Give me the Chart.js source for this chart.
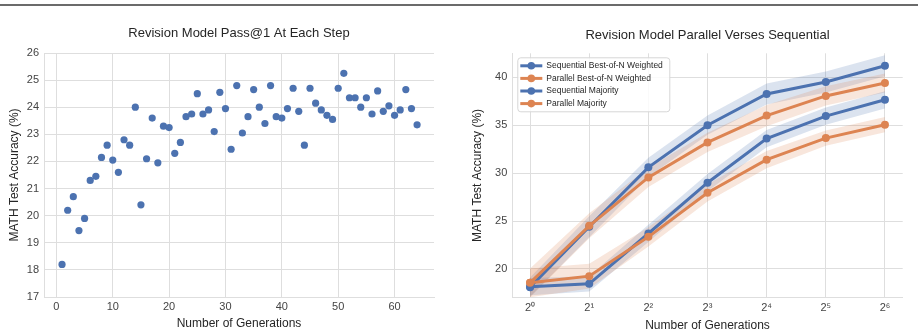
<!DOCTYPE html>
<html>
<head>
<meta charset="utf-8">
<script src="https://cdn.jsdelivr.net/npm/chart.js@4"></script>
<style>
  html, body { margin: 0; padding: 0; background: #fff; }
  body { width: 918px; height: 333px; position: relative; overflow: hidden; }
  .rule { position: absolute; left: 0; top: 4px; width: 918px; height: 2px; background: #6b6b6b; }
  .panel { position: absolute; top: 0; width: 459px; height: 333px; }
</style>
</head>
<body>
<div class="rule"></div>
<div class="panel" style="left:0"><canvas id="passChart" width="459" height="333"></canvas></div>
<div class="panel" style="left:459px"><canvas id="parallelChart" width="459" height="333"></canvas></div>
<script>
// left panel: pass@1 of the revision model at each step
const generations = [
  1, 2, 3, 4, 5, 6, 7, 8, 9, 10, 11, 12, 13, 14, 15, 16,
  17, 18, 19, 20, 21, 22, 23, 24, 25, 26, 27, 28, 29, 30, 31, 32,
  33, 34, 35, 36, 37, 38, 39, 40, 41, 42, 43, 44, 45, 46, 47, 48,
  49, 50, 51, 52, 53, 54, 55, 56, 57, 58, 59, 60, 61, 62, 63, 64,
];
const passAtStep = [
  18.2, 20.2, 20.7, 19.45, 19.9, 21.3, 21.45, 22.15, 22.6, 22.05, 21.6, 22.8, 22.6, 24.0, 20.4, 22.1,
  23.6, 21.95, 23.3, 23.25, 22.3, 22.7, 23.65, 23.75, 24.5, 23.75, 23.9, 23.1, 24.55, 23.95, 22.45, 24.8,
  23.05, 23.65, 24.65, 24.0, 23.4, 24.8, 23.65, 23.6, 23.95, 24.7, 23.85, 22.6, 24.7, 24.15, 23.9, 23.7,
  23.55, 24.7, 25.25, 24.35, 24.35, 24.0, 24.35, 23.75, 24.6, 23.85, 24.05, 23.7, 23.9, 24.65, 23.95, 23.35,
];
const passXTicks = [0, 10, 20, 30, 40, 50, 60];
const passYTicks = [17, 18, 19, 20, 21, 22, 23, 24, 25, 26];

// right panel: parallel vs sequential
const samples = [1, 2, 4, 8, 16, 32, 64];
const sampleLabels = ["2⁰", "2¹", "2²", "2³", "2⁴", "2⁵", "2⁶"];
const accYTicks = [20, 25, 30, 35, 40];
const seqBestOfN = [18.1, 24.4, 30.6, 35.0, 38.25, 39.5, 41.2];
const parBestOfN = [18.55, 24.5, 29.55, 33.2, 36.0, 38.05, 39.4];
const seqMajority = [18.15, 18.45, 23.7, 29.0, 33.6, 35.95, 37.65];
const parMajority = [18.55, 19.25, 23.35, 27.95, 31.4, 33.65, 35.05];
const seqBestOfNErr = [1.0, 1.1, 1.0, 1.0, 1.1, 1.1, 1.1];
const parBestOfNErr = [1.5, 1.3, 1.0, 1.0, 1.1, 1.0, 1.0];
const seqMajorityErr = [0.9, 0.8, 0.9, 0.9, 0.9, 0.9, 0.9];
const parMajorityErr = [1.5, 1.3, 1.0, 0.9, 0.9, 0.8, 0.8];

const BLUE = "#4c72b0";
const ORANGE = "#dd8452";
const BLUE_BAND = "rgba(76, 114, 176, 0.2)";
const ORANGE_BAND = "rgba(221, 132, 82, 0.2)";
const GRID = "#dedede";
const TEXT = "#262626";

Chart.defaults.font.family = '"Liberation Sans", Arial, sans-serif';
Chart.defaults.color = TEXT;
Chart.defaults.animation = false;

function gridOpts() {
  return { color: GRID, drawTicks: false };
}

new Chart(document.getElementById("passChart"), {
  type: "scatter",
  data: {
    datasets: [{
      data: generations.map((g, i) => ({ x: g, y: passAtStep[i] })),
      backgroundColor: BLUE,
      borderWidth: 0,
      pointRadius: 3.6,
    }],
  },
  options: {
    responsive: false,
    layout: { padding: { left: 0, right: 25, top: 0, bottom: 0 } },
    plugins: {
      legend: { display: false },
      tooltip: { enabled: false },
      title: {
        display: true,
        fullSize: false,
        text: "Revision Model Pass@1 At Each Step",
        font: { size: 13, weight: "normal" },
        color: TEXT,
        padding: { top: 26, bottom: 11.4 },
      },
    },
    scales: {
      x: {
        type: "linear",
        min: -2.2,
        max: 67,
        afterBuildTicks: (s) => { s.ticks = passXTicks.map((v) => ({ value: v })); },
        afterFit: (s) => { s.height = 36; },
        grid: gridOpts(),
        border: { color: GRID },
        ticks: { font: { size: 11 }, color: "#444", padding: 3 },
        title: { display: true, text: "Number of Generations", font: { size: 12 }, color: TEXT, padding: { top: 0, bottom: 2 } },
      },
      y: {
        min: 17,
        max: 26,
        afterBuildTicks: (s) => { s.ticks = passYTicks.map((v) => ({ value: v })); },
        afterFit: (s) => { s.width = 44; },
        grid: gridOpts(),
        border: { color: GRID },
        ticks: { font: { size: 11 }, color: "#444", padding: 5 },
        title: { display: true, text: "MATH Test Accuracy (%)", font: { size: 12 }, color: TEXT, padding: { top: 7, bottom: 0 } },
      },
    },
  },
});

const pts = (arr) => arr.map((v, i) => ({ x: samples[i], y: v }));
const shift = (arr, err, sign) => arr.map((v, i) => ({ x: samples[i], y: v + sign * err[i] }));

function lineSet(label, values, color) {
  return {
    label,
    data: pts(values),
    borderColor: color,
    backgroundColor: color,
    borderWidth: 3,
    pointRadius: 4,
    pointBorderWidth: 0,
    tension: 0,
    fill: false,
  };
}
function bandSets(values, err, color) {
  return [
    { label: "", data: shift(values, err, 1), borderWidth: 0, pointRadius: 0, backgroundColor: color, fill: "+1" },
    { label: "", data: shift(values, err, -1), borderWidth: 0, pointRadius: 0, fill: false },
  ];
}

const legendItems = [
  { text: "Sequential Best-of-N Weighted", color: BLUE },
  { text: "Parallel Best-of-N Weighted", color: ORANGE },
  { text: "Sequential Majority", color: BLUE },
  { text: "Parallel Majority", color: ORANGE },
];

const boxLegend = {
  id: "boxLegend",
  afterDatasetsDraw(chart) {
    const { ctx, chartArea } = chart;
    const x0 = chartArea.left + 5;
    const y0 = chartArea.top + 4;
    ctx.save();
    ctx.fillStyle = "rgba(255,255,255,0.85)";
    ctx.strokeStyle = "#d6d6d6";
    ctx.lineWidth = 1;
    ctx.beginPath();
    ctx.roundRect(x0 + 0.5, y0 + 0.5, 152, 54, 3);
    ctx.fill();
    ctx.stroke();
    ctx.font = '8.5px "Liberation Sans", Arial, sans-serif';
    ctx.textBaseline = "middle";
    legendItems.forEach((item, i) => {
      const y = y0 + 8.5 + i * 12.6;
      ctx.strokeStyle = item.color;
      ctx.lineWidth = 3;
      ctx.beginPath();
      ctx.moveTo(x0 + 3, y);
      ctx.lineTo(x0 + 25, y);
      ctx.stroke();
      ctx.fillStyle = item.color;
      ctx.beginPath();
      ctx.arc(x0 + 14, y, 3.8, 0, Math.PI * 2);
      ctx.fill();
      ctx.fillStyle = TEXT;
      ctx.fillText(item.text, x0 + 29, y);
    });
    ctx.restore();
  },
};

new Chart(document.getElementById("parallelChart"), {
  type: "line",
  data: {
    datasets: [
      lineSet("Parallel Majority", parMajority, ORANGE),
      lineSet("Sequential Majority", seqMajority, BLUE),
      lineSet("Parallel Best-of-N Weighted", parBestOfN, ORANGE),
      lineSet("Sequential Best-of-N Weighted", seqBestOfN, BLUE),
      ...bandSets(parMajority, parMajorityErr, ORANGE_BAND),
      ...bandSets(seqMajority, seqMajorityErr, BLUE_BAND),
      ...bandSets(parBestOfN, parBestOfNErr, ORANGE_BAND),
      ...bandSets(seqBestOfN, seqBestOfNErr, BLUE_BAND),
    ],
  },
  options: {
    responsive: false,
    layout: { padding: { left: 0, right: 15.3, top: 0, bottom: 0 } },
    plugins: {
      legend: { display: false },
      tooltip: { enabled: false },
      title: {
        display: true,
        fullSize: false,
        text: "Revision Model Parallel Verses Sequential",
        font: { size: 13, weight: "normal" },
        color: TEXT,
        padding: { top: 27.2, bottom: 10.5 },
      },
    },
    scales: {
      x: {
        type: "logarithmic",
        min: 0.812,
        max: 78.8,
        afterBuildTicks: (s) => { s.ticks = samples.map((v) => ({ value: v })); },
        afterFit: (s) => { s.height = 35.3; },
        grid: gridOpts(),
        border: { color: GRID },
        ticks: {
          font: { size: 11 },
          color: "#444",
          padding: 4,
          callback: (v, i) => sampleLabels[i],
        },
        title: { display: true, text: "Number of Generations", font: { size: 12 }, color: TEXT, padding: { top: 0, bottom: 0 } },
      },
      y: {
        min: 17,
        max: 42.5,
        afterBuildTicks: (s) => { s.ticks = accYTicks.map((v) => ({ value: v })); },
        afterFit: (s) => { s.width = 53.3; },
        grid: gridOpts(),
        border: { color: GRID },
        ticks: { font: { size: 11 }, color: "#444", padding: 5 },
        title: { display: true, text: "MATH Test Accuracy (%)", font: { size: 12 }, color: TEXT, padding: { top: 11, bottom: 0 } },
      },
    },
  },
  plugins: [boxLegend],
});
</script>
</body>
</html>
